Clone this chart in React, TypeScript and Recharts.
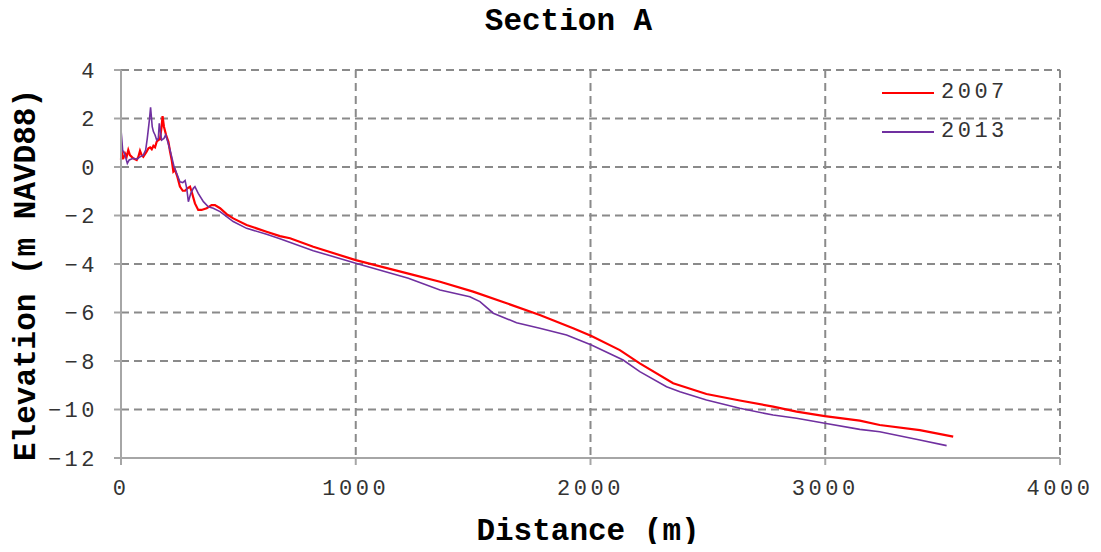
import { LineChart, Line, XAxis, YAxis, CartesianGrid, Legend } from "recharts";

// distance (m), elevation (m NAVD88)
const profile2007: [number, number][] = [
  [0, 0.3], [2, 0.84], [5, 0.35], [10, 0.36], [17, 0.56], [24, 0.42], [31, 0.7], [38, 0.49],
  [52, 0.36], [67, 0.29], [74, 0.42], [81, 0.67], [88, 0.49], [95, 0.42], [109, 0.63],
  [117, 0.77], [124, 0.81], [131, 0.73], [138, 0.87], [145, 0.81], [152, 1.04], [159, 1.11],
  [166, 1.14], [173, 1.66], [177, 2.1], [183, 1.66], [192, 1.32], [202, 1.04], [209, 0.63],
  [216, 0.29], [223, -0.19], [230, -0.12], [240, -0.4], [251, -0.81], [263, -0.98],
  [273, -0.98], [283, -0.88], [294, -0.81], [301, -1.02], [315, -1.5], [329, -1.77],
  [343, -1.77], [365, -1.7], [386, -1.57], [400, -1.57], [422, -1.7], [450, -1.94],
  [478, -2.12], [535, -2.39], [620, -2.67], [677, -2.85], [720, -2.94], [819, -3.29],
  [1000, -3.84], [1245, -4.45], [1359, -4.73], [1500, -5.14], [1643, -5.62], [1784, -6.1],
  [1926, -6.65], [2004, -6.97], [2125, -7.55], [2210, -8.1], [2352, -8.92], [2494, -9.36],
  [2636, -9.63], [2778, -9.88], [2878, -10.09], [2998, -10.27], [3147, -10.46],
  [3232, -10.64], [3403, -10.85], [3545, -11.12],
];

const profile2013: [number, number][] = [
  [0, 1.53], [3, 1.2], [7, 0.7], [17, 0.49], [27, 0.15], [35, 0.29], [52, 0.36], [67, 0.32],
  [81, 0.42], [95, 0.49], [105, 0.7], [112, 1.18], [121, 1.94], [126, 2.46], [133, 1.66],
  [138, 1.46], [145, 1.32], [152, 1.11], [159, 1.18], [163, 1.8], [169, 1.39], [173, 1.11],
  [183, 1.18], [190, 1.32], [197, 1.11], [209, 0.7], [216, 0.42], [226, 0.01], [237, -0.26],
  [251, -0.61], [263, -0.64], [273, -0.56], [280, -0.88], [287, -1.43], [297, -1.09],
  [308, -0.88], [315, -0.81], [329, -1.09], [351, -1.43], [372, -1.64], [393, -1.7],
  [422, -1.84], [450, -2.05], [478, -2.25], [535, -2.53], [620, -2.77], [677, -2.96],
  [819, -3.45], [1000, -3.97], [1224, -4.59], [1359, -5.07], [1486, -5.35], [1529, -5.55],
  [1586, -6.03], [1685, -6.42], [1784, -6.65], [1898, -6.93], [2004, -7.34], [2139, -7.96],
  [2210, -8.44], [2324, -9.06], [2381, -9.27], [2494, -9.61], [2636, -9.95], [2778, -10.23],
  [2878, -10.36], [2998, -10.57], [3147, -10.82], [3232, -10.92], [3403, -11.26],
  [3517, -11.49],
];

const xTicks = [0, 1000, 2000, 3000, 4000];
const yTicks = [-12, -10, -8, -6, -4, -2, 0, 2, 4];

const series = [
  { name: "2007", color: "#ff0000", width: 2.2, points: profile2007 },
  { name: "2013", color: "#7030a0", width: 1.6, points: profile2013 },
];

const MONO = "'Liberation Mono', 'Courier New', monospace";
const tickStyle = { fontSize: 22, fill: "#333", fontFamily: MONO, letterSpacing: 3.5 };
const fmt = (v: number) => (v < 0 ? `\u2212${-v}` : `${v}`);

function LegendBox() {
  return (
    <div style={{ fontFamily: MONO, fontSize: 22, letterSpacing: 3.5, color: "#333" }}>
      {series.map((s) => (
        <div key={s.name} style={{ display: "flex", alignItems: "center", height: 39 }}>
          <div style={{ width: 52, height: 0, borderTop: `2px solid ${s.color}`, marginRight: 7 }} />
          <span>{s.name}</span>
        </div>
      ))}
    </div>
  );
}

export default function App() {
  return (
    <div style={{ position: "relative", width: 1101, height: 552, margin: -8, background: "#fff" }}>
      <div style={{
        position: "absolute", left: 0, width: 1137, top: 4, textAlign: "center",
        fontFamily: MONO, fontWeight: "bold", fontSize: 31, color: "#000",
      }}>
        Section A
      </div>
      <div style={{
        position: "absolute", left: 0, width: 1176, top: 514, textAlign: "center",
        fontFamily: MONO, fontWeight: "bold", fontSize: 31, color: "#000",
      }}>
        Distance (m)
      </div>
      <div style={{
        position: "absolute", left: 26, top: 275, transform: "translate(-50%, -50%) rotate(-90deg)",
        whiteSpace: "nowrap", fontFamily: MONO, fontWeight: "bold", fontSize: 31, color: "#000",
      }}>
        Elevation (m NAVD88)
      </div>
      <LineChart width={1101} height={552} margin={{ top: 70, right: 41, bottom: 64, left: 21 }}>
        <CartesianGrid stroke="#8a8a8a" strokeWidth={2} strokeDasharray="8 5" />
        <XAxis
          type="number"
          dataKey="d"
          domain={[0, 4000]}
          ticks={xTicks}
          tick={tickStyle}
          tickSize={7}
          tickMargin={14}
          height={30}
          stroke="#a6a6a6"
          strokeWidth={2}
          allowDuplicatedCategory={false}
        />
        <YAxis
          type="number"
          dataKey="e"
          domain={[-12, 4]}
          ticks={yTicks}
          tickFormatter={fmt}
          tick={tickStyle}
          tickSize={7}
          tickMargin={16}
          width={100}
          stroke="#a6a6a6"
          strokeWidth={2}
        />
        <Legend
          layout="horizontal"
          verticalAlign="middle"
          align="center"
          content={<LegendBox />}
          wrapperStyle={{ position: "absolute", left: 882, top: 73, width: 160 }}
        />
        {series.map((s) => (
          <Line
            key={s.name}
            name={s.name}
            data={s.points.map(([d, e]) => ({ d, e }))}
            dataKey="e"
            type="linear"
            stroke={s.color}
            strokeWidth={s.width}
            dot={false}
            activeDot={false}
            isAnimationActive={false}
          />
        ))}
      </LineChart>
    </div>
  );
}
